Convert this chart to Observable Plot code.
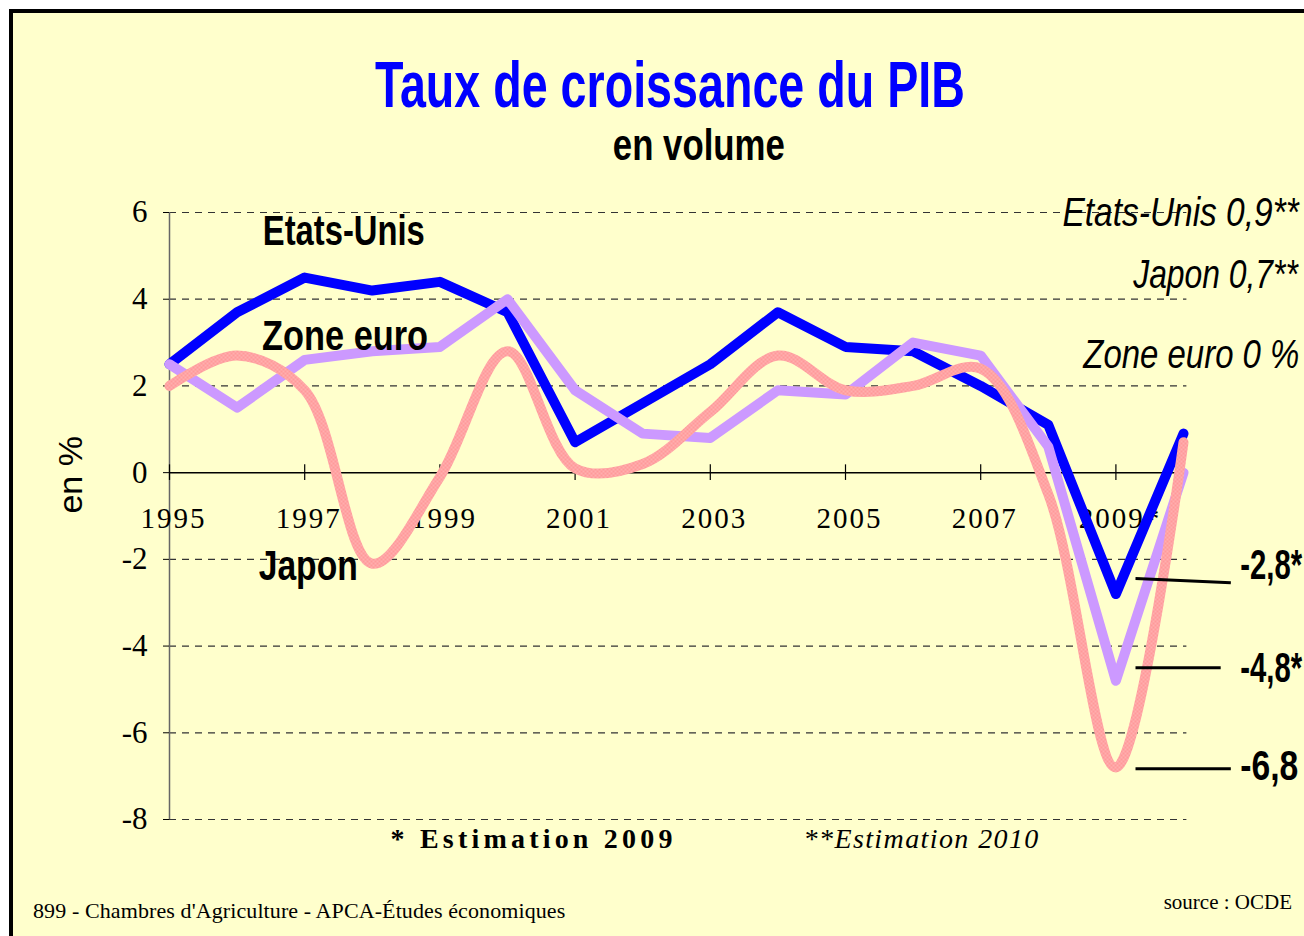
<!DOCTYPE html>
<html><head><meta charset="utf-8">
<script src="https://cdn.jsdelivr.net/npm/d3@7"></script>
<script src="https://cdn.jsdelivr.net/npm/@observablehq/plot@0.6"></script>
<style>
html,body{margin:0;padding:0;background:#fff;overflow:hidden;width:1304px;height:936px;}
#frame{position:absolute;left:9px;top:9px;width:1330px;height:960px;background:#FFFFCC;border:4px solid #000;box-sizing:border-box;}
#chart{position:absolute;left:0;top:0;}
.t{position:absolute;white-space:nowrap;display:inline-block;}
#title{top:53px;font:bold 64px "Liberation Sans",Arial,sans-serif;color:#0000FF;line-height:64px;}
#subtitle{top:123px;font:bold 44px "Liberation Sans",Arial,sans-serif;color:#000;line-height:44px;}
#foot1{left:33px;top:898px;font:22px "Liberation Serif",serif;letter-spacing:0.1px;}
#foot2{right:12px;top:890px;font:21px "Liberation Serif",serif;}
</style></head>
<body>
<div id="frame"></div>
<div id="chart"></div>
<div class="t" id="title">Taux de croissance du PIB</div>
<div class="t" id="subtitle">en volume</div>
<div class="t" id="foot1">899 - Chambres d'Agriculture - APCA-Études économiques</div>
<div class="t" id="foot2">source : OCDE</div>
<script>
const years = [1995,1996,1997,1998,1999,2000,2001,2002,2003,2004,2005,2006,2007,2008,2009,2010];
const etatsUnis = [2.5,3.7,4.5,4.2,4.4,3.7,0.7,1.6,2.5,3.7,2.9,2.8,2.0,1.1,-2.8,0.9];
const zoneEuro  = [2.5,1.5,2.6,2.8,2.9,4.0,1.9,0.9,0.8,1.9,1.8,3.0,2.7,0.6,-4.8,0.0];
const japon     = [2.0,2.7,1.9,-2.1,-0.1,2.8,0.1,0.2,1.4,2.7,1.9,2.0,2.4,-0.5,-6.8,0.7];
const yTicks = [-8,-6,-4,-2,0,2,4,6];
const xTickYears = [1995,1997,1999,2001,2003,2005,2007,2009];
const xTickLabels = ["1995","1997","1999","2001","2003","2005","2007","2009*"];
const seriesNames = ["Etats-Unis","Zone euro","Japon"];
const forecasts = ["Etats-Unis 0,9**","Japon 0,7**","Zone euro 0 %"];
const lows = ["-2,8*","-4,8*","-6,8"];
const notes = ["* Estimation 2009","**Estimation 2010"];

const rows = (arr) => years.map((y,i)=>({year:y, value:arr[i]}));
const sans = '"Liberation Sans",Arial,sans-serif';
const serif = '"Liberation Serif",serif';

const chart = Plot.plot({
  width:1304, height:936,
  marginLeft:169, marginRight:121, marginTop:212, marginBottom:117,
  style:{background:"transparent", overflow:"visible"},
  x:{domain:[1995,2010], axis:null},
  y:{domain:[-8,6], axis:null},
  marks:[
    Plot.ruleY(yTicks.filter(d=>d!==0), {x1:1995, x2:2010.05, stroke:"#333", strokeWidth:1.2, strokeDasharray:"7,6"}),
    Plot.ruleX([1995], {y1:-8, y2:6, stroke:"#666", strokeWidth:1.5}),
    Plot.ruleY([0], {x1:1995, x2:2010, stroke:"#000", strokeWidth:1.5}),
    Plot.ruleX(xTickYears, {y1:-0.18, y2:0.18, stroke:"#000", strokeWidth:1.2}),
    Plot.axisY({ticks:yTicks, label:null, tickSize:6, tickPadding:16, tickFormat:d=>String(d), fontSize:31, fontFamily:serif, stroke:"#000", color:"#000"}),
    Plot.text(xTickYears, {x:d=>d, y:0, dy:46, dx:4, text:(d,i)=>xTickLabels[i], fontSize:29, fontFamily:serif, fill:"#000"}),
    Plot.line(rows(etatsUnis), {x:"year", y:"value", stroke:"#0000FF", strokeWidth:10}),
    Plot.line(rows(zoneEuro), {x:"year", y:"value", stroke:"#CC99FF", strokeWidth:10}),
    Plot.line(rows(japon), {x:"year", y:"value", stroke:"url(#jp)", strokeWidth:10, curve:"catmull-rom"}),
    Plot.text([seriesNames[0]], {x:1996.38, y:5.56, text:d=>d, textAnchor:"start", fontSize:42, fontWeight:"bold", fontFamily:sans, fill:"#000"}),
    Plot.text([seriesNames[1]], {x:1996.37, y:3.14, text:d=>d, textAnchor:"start", fontSize:42, fontWeight:"bold", fontFamily:sans, fill:"#000"}),
    Plot.text([seriesNames[2]], {x:1996.32, y:-2.17, text:d=>d, textAnchor:"start", fontSize:42, fontWeight:"bold", fontFamily:sans, fill:"#000"}),
    Plot.text([forecasts[0]], {x:2008.21, y:6.0, text:d=>d, textAnchor:"start", fontSize:41, fontStyle:"italic", fontFamily:sans, fill:"#000"}),
    Plot.text([forecasts[1]], {x:2009.26, y:4.55, text:d=>d, textAnchor:"start", fontSize:41, fontStyle:"italic", fontFamily:sans, fill:"#000"}),
    Plot.text([forecasts[2]], {x:2008.52, y:2.72, text:d=>d, textAnchor:"start", fontSize:41, fontStyle:"italic", fontFamily:sans, fill:"#000"}),
    Plot.link([0], {x1:2009.29, y1:-2.44, x2:2010.7, y2:-2.54, stroke:"#000", strokeWidth:3}),
    Plot.link([0], {x1:2009.29, y1:-4.5, x2:2010.55, y2:-4.5, stroke:"#000", strokeWidth:3}),
    Plot.link([0], {x1:2009.29, y1:-6.83, x2:2010.7, y2:-6.83, stroke:"#000", strokeWidth:3}),
    Plot.text([lows[0]], {x:2010.84, y:-2.14, text:d=>d, textAnchor:"start", fontSize:43, fontWeight:"bold", fontFamily:sans, fill:"#000"}),
    Plot.text([lows[1]], {x:2010.84, y:-4.52, text:d=>d, textAnchor:"start", fontSize:43, fontWeight:"bold", fontFamily:sans, fill:"#000"}),
    Plot.text([lows[2]], {x:2010.84, y:-6.76, text:d=>d, textAnchor:"start", fontSize:43, fontWeight:"bold", fontFamily:sans, fill:"#000"}),
    Plot.text([notes[0]], {x:1998.27, y:-8.45, text:d=>d, textAnchor:"start", fontSize:28, fontWeight:"bold", fontFamily:serif, fill:"#000"}),
    Plot.text([notes[1]], {x:2004.38, y:-8.45, text:d=>d, textAnchor:"start", fontSize:28, fontStyle:"italic", fontFamily:serif, fill:"#000"}),
    Plot.text(["en %"], {x:1993.55, y:-0.05, text:d=>d, rotate:-90, fontSize:34, fontFamily:sans, fill:"#000"})
  ]
});
const ns = "http://www.w3.org/2000/svg";
const defs = document.createElementNS(ns, "defs");
defs.innerHTML = '<pattern id="jp" width="4" height="4" patternUnits="userSpaceOnUse"><rect width="4" height="4" fill="#FF9999"/><rect width="2" height="2" fill="#FFAFAF"/><rect x="2" y="2" width="2" height="2" fill="#FFAFAF"/></pattern>';
chart.insertBefore(defs, chart.firstChild);
document.getElementById("chart").appendChild(chart);

// spaced-out serif texts, as in the original
const spacing = new Map([["* Estimation 2009","4.2px"],["**Estimation 2010","1.4px"]]);
xTickLabels.forEach(l=>spacing.set(l,"2px"));
// condensed look (the original uses a narrow face): squeeze glyphs to the widths seen
const fit = new Map([
  ["Etats-Unis",162],["Zone euro",166],["Japon",99],
  ["Etats-Unis 0,9**",238],["Japon 0,7**",167],["Zone euro 0 %",217],
  ["-2,8*",62],["-4,8*",62],["-6,8",58]
]);
chart.querySelectorAll("text").forEach(t=>{
  const s = spacing.get(t.textContent);
  if (s) t.style.letterSpacing = s;
  const w = fit.get(t.textContent);
  if (w) {
    const bb = t.getBBox();
    const sx = w / bb.width;
    const tr = t.getAttribute("transform") || "";
    t.setAttribute("transform", `${tr} translate(${bb.x},0) scale(${sx},1) translate(${-bb.x},0)`);
  }
});
function squeeze(id, width, center){
  const el = document.getElementById(id);
  const w = el.getBoundingClientRect().width;
  el.style.left = (center - w/2) + "px";
  el.style.transformOrigin = "50% 50%";
  el.style.transform = `scaleX(${width/w})`;
}
squeeze("title", 590, 670);
squeeze("subtitle", 172, 699);
</script>
</body></html>
